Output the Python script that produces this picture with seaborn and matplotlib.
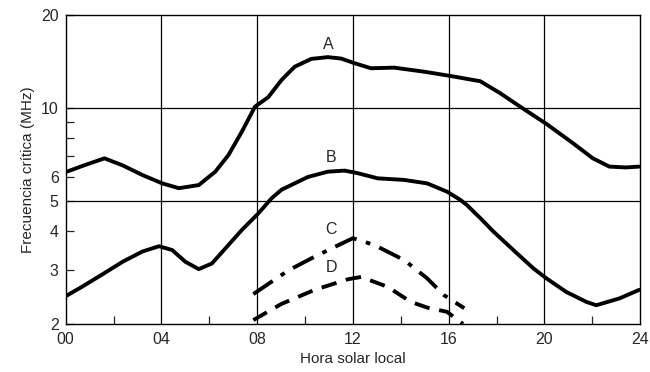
import numpy as np
import pandas as pd
import matplotlib
matplotlib.use("Agg")
import matplotlib.pyplot as plt
import matplotlib.ticker as mticker
import seaborn as sns

# ============================================================
# Data
# ============================================================

hours_a = [0.0, 0.72, 1.62, 2.38, 3.2, 4.04, 4.73, 5.56, 6.25, 6.8, 7.36, 7.91, 8.46, 9.02, 9.57,
           10.26, 10.95, 11.5, 12.06, 12.75, 13.72, 14.97, 16.07, 17.32, 18.15, 18.98, 20.08,
           21.19, 22.02, 22.71, 23.4, 23.95]
freq_a  = [6.2, 6.5, 6.87, 6.52, 6.07, 5.7, 5.5, 5.63, 6.22, 7.04, 8.38, 10.1, 10.83, 12.32, 13.6,
           14.41, 14.6, 14.45, 13.96, 13.44, 13.5, 13.1, 12.69, 12.2, 11.16, 10.1, 8.88,
           7.69, 6.87, 6.46, 6.42, 6.46]

hours_b = [0.0, 0.72, 1.55, 2.38, 3.2, 3.9, 4.45, 5.0, 5.56, 6.11, 6.67, 7.36, 8.05, 8.6, 9.02,
           10.12, 10.95, 11.65, 12.2, 13.03, 14.14, 15.1, 15.93, 16.49, 16.76, 17.32, 17.87,
           18.7, 19.53, 20.08, 20.91, 21.74, 22.16, 23.13, 23.96]
freq_b  = [2.46, 2.65, 2.9, 3.18, 3.43, 3.57, 3.47, 3.18, 3.01, 3.14, 3.51, 4.03, 4.56, 5.1, 5.44,
           5.98, 6.22, 6.27, 6.15, 5.92, 5.85, 5.7, 5.36, 5.04, 4.85, 4.4, 3.98,
           3.47, 3.03, 2.81, 2.54, 2.36, 2.30, 2.42, 2.58]

hours_c = [7.84, 8.6, 9.3, 10.26, 11.1, 12.0, 12.9, 14.14, 15.1, 15.8, 16.65]
freq_c  = [2.5, 2.74, 2.98, 3.26, 3.51, 3.79, 3.6, 3.22, 2.81, 2.48, 2.25]

hours_d = [7.84, 9.0, 10.4, 11.78, 12.34, 13.44, 14.41, 15.1, 15.93, 16.6]
freq_d  = [2.06, 2.32, 2.58, 2.79, 2.84, 2.64, 2.36, 2.26, 2.19, 2.0]

curve_labels = ["A", "B", "C", "D"]
label_pos_h  = [10.95, 11.1, 11.1, 11.1]
label_pos_f  = [16.0, 6.9, 4.05, 3.05]

y_major = [2, 3, 4, 5, 6, 10, 20]
y_minor = [7, 8, 9]
x_major = [0, 4, 8, 12, 16, 20, 24]
x_labels = ["00", "04", "08", "12", "16", "20", "24"]
x_minor = [2, 6, 10, 14, 18, 22]

# ============================================================
# Plot
# ============================================================

sns.set_style("white")
plt.rcParams["font.family"] = ["Liberation Sans Narrow", "Liberation Sans", "DejaVu Sans"]

fig = plt.figure(figsize=(6.5, 3.72), dpi=100)
ax = fig.add_axes([0.101, 0.129, 0.884, 0.831])

df = pd.concat([
    pd.DataFrame({"hora": hours_a, "freq": freq_a, "curva": "A"}),
    pd.DataFrame({"hora": hours_b, "freq": freq_b, "curva": "B"}),
    pd.DataFrame({"hora": hours_c, "freq": freq_c, "curva": "C"}),
    pd.DataFrame({"hora": hours_d, "freq": freq_d, "curva": "D"}),
])

styles = {"A": "-", "B": "-", "C": (0, (6, 2.5, 1.2, 2.5)), "D": (0, (4, 2.5))}
for name, sub in df.groupby("curva"):
    sns.lineplot(data=sub, x="hora", y="freq", ax=ax, color="black",
                 linewidth=2.8, linestyle=styles[name], sort=False,
                 solid_capstyle="round", solid_joinstyle="round",
                 dash_joinstyle="round")

ax.set_yscale("log")
ax.set_xlim(0, 24)
ax.set_ylim(2, 20)

# grid lines only at 5 and 10 MHz and every 4 h
for v in [5, 10]:
    ax.axhline(v, color="black", linewidth=0.9, zorder=1)
for h in x_major[1:-1]:
    ax.axvline(h, color="black", linewidth=0.9, zorder=1)

ax.yaxis.set_major_locator(mticker.FixedLocator(y_major))
ax.yaxis.set_major_formatter(mticker.FixedFormatter([str(v) for v in y_major]))
ax.yaxis.set_minor_locator(mticker.FixedLocator(y_minor))
ax.yaxis.set_minor_formatter(mticker.NullFormatter())
ax.set_xticks(x_major)
ax.set_xticklabels(x_labels)
ax.xaxis.set_minor_locator(mticker.FixedLocator(x_minor))

ax.tick_params(axis="y", which="both", direction="in", length=6, width=0.9,
               labelsize=11.5, pad=5, left=True)
ax.tick_params(axis="x", which="major", length=0, labelsize=11.5, pad=6)
ax.tick_params(axis="x", which="minor", direction="in", length=6, width=0.9, bottom=True)

for s in ax.spines.values():
    s.set_color("black")
    s.set_linewidth(1.0)

for lab, h, f in zip(curve_labels, label_pos_h, label_pos_f):
    ax.text(h, f, lab, ha="center", va="center", fontsize=11.5)

ax.set_xlabel("Hora solar local", fontsize=11, labelpad=3)
ax.set_ylabel("Frecuencia crítica (MHz)", fontsize=11, labelpad=4)

fig.savefig("out.png", dpi=100)
